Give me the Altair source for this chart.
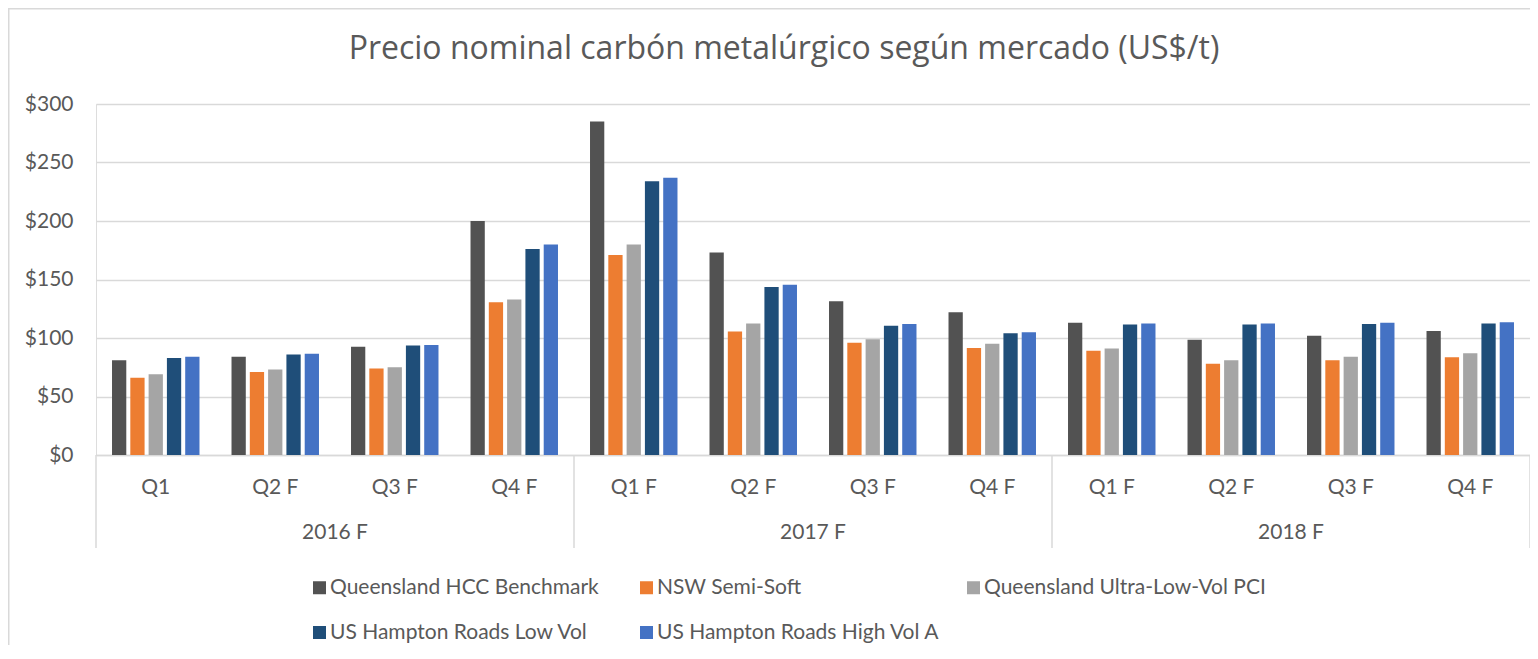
import altair as alt
import pandas as pd

# ---- data ----
title_text = "Precio nominal carbón metalúrgico según mercado (US$/t)"
years = ["2016 F", "2017 F", "2018 F"]
quarters = [
    ["Q1", "Q2 F", "Q3 F", "Q4 F"],
    ["Q1 F", "Q2 F", "Q3 F", "Q4 F"],
    ["Q1 F", "Q2 F", "Q3 F", "Q4 F"],
]
series = [
    "Queensland HCC Benchmark",
    "NSW Semi-Soft",
    "Queensland Ultra-Low-Vol PCI",
    "US Hampton Roads Low Vol",
    "US Hampton Roads High Vol A",
]
hcc = [81, 84, 92.5, 200, 285, 173, 131.5, 122, 113, 98.5, 102, 106]
nsw = [66, 71, 74, 130.5, 171, 105.5, 96, 91.5, 89, 78, 81, 83.5]
pci = [69, 73, 75, 133, 180, 112.5, 99, 95, 91, 81, 84, 87]
lowvol = [83, 86, 93.5, 176, 234, 143.5, 110.5, 104, 111.5, 111.5, 112, 112.5]
highvol = [84, 86.5, 94, 180, 237, 145.5, 112, 105, 112.5, 112.5, 113, 113.5]
colors = ["#525252", "#ED7D31", "#A5A5A5", "#1F4E79", "#4472C4"]
y_ticks = [0, 50, 100, 150, 200, 250, 300]

# ---- tables ----
keys = [f"{y}|{q}" for y, qs in zip(years, quarters) for q in qs]
values = [hcc, nsw, pci, lowvol, highvol]
rows = []
for s, vals in zip(series, values):
    for k, v in zip(keys, vals):
        rows.append({"key": k, "series": s, "value": v})
df = pd.DataFrame(rows)

year_df = pd.DataFrame({"key": [f"{y}|{qs[1]}" for y, qs in zip(years, quarters)], "year": years})
start_df = pd.DataFrame({"key": [f"{y}|{qs[0]}" for y, qs in zip(years, quarters)]})
end_df = pd.DataFrame({"key": [keys[-1]]})
one_df = pd.DataFrame({"title": [title_text]})

W, H = 1434, 351
TXT = "#595959"
GRID = "#D9D9D9"
FONT = "Lato"

xscale = alt.Scale(domain=keys, paddingInner=0, paddingOuter=0)

bars = alt.Chart(df).mark_bar().encode(
    x=alt.X(
        "key:N",
        sort=keys,
        scale=xscale,
        title=None,
        axis=alt.Axis(
            labelExpr="split(datum.label, '|')[1]",
            labelAngle=0,
            labelFontSize=21,
            labelColor=TXT,
            labelFont=FONT,
            labelPadding=32,
            labelBaseline="middle",
            ticks=False,
            domainColor=GRID,
            domainWidth=1.5,
            grid=False,
        ),
    ),
    xOffset=alt.XOffset(
        "series:N",
        sort=series,
        scale=alt.Scale(domain=series, paddingInner=0.22, paddingOuter=0.875),
    ),
    y=alt.Y(
        "value:Q",
        scale=alt.Scale(domain=[0, 300]),
        title=None,
        axis=alt.Axis(
            values=y_ticks,
            labelExpr="'$' + datum.value",
            labelFontSize=21,
            labelColor=TXT,
            labelFont=FONT,
            labelPadding=23,
            domain=False,
            ticks=False,
            gridColor=GRID,
            gridWidth=1.5,
        ),
    ),
    color=alt.Color(
        "series:N",
        sort=series,
        scale=alt.Scale(domain=series, range=colors),
        legend=alt.Legend(
            orient="none",
            direction="horizontal",
            legendX=213,
            legendY=473,
            title=None,
            columns=3,
            gridAlign="all",
            symbolType="square",
            symbolSize=169,
            symbolStrokeWidth=0,
            labelFontSize=21,
            labelFont=FONT,
            labelColor=TXT,
            labelLimit=600,
            labelOffset=0,
            columnPadding=23,
            rowPadding=23,
            padding=0,
        ),
    ),
)

year_text = alt.Chart(year_df).mark_text(
    fontSize=21, font=FONT, color=TXT, baseline="middle", align="center"
).encode(
    x=alt.X("key:N", scale=xscale, title=None, bandPosition=1),
    y=alt.value(H + 78),
    text="year:N",
)

sep_start = alt.Chart(start_df).mark_rule(color=GRID, strokeWidth=1.5).encode(
    x=alt.X("key:N", scale=xscale, title=None, bandPosition=0),
    y=alt.value(H),
    y2=alt.value(H + 93),
)
sep_end = alt.Chart(end_df).mark_rule(color=GRID, strokeWidth=1.5).encode(
    x=alt.X("key:N", scale=xscale, title=None, bandPosition=1),
    y=alt.value(H),
    y2=alt.value(H + 93),
)

frame = alt.Chart(one_df).mark_rect(fill=None, stroke=GRID, strokeWidth=1.5).encode(
    x=alt.value(-88 + 0.75),
    x2=alt.value(W + 200),
    y=alt.value(-96 + 0.75),
    y2=alt.value(H + 400),
)

title = alt.Chart(one_df).mark_text(
    fontSize=32, font="Open Sans", color=TXT, baseline="middle", align="center"
).encode(
    x=alt.value(688),
    y=alt.value(-55),
    text="title:N",
)

chart = (
    alt.layer(frame, bars, sep_start, sep_end, year_text, title)
    .properties(
        width=W,
        height=H,
        autosize=alt.AutoSizeParams(type="none"),
        padding={"left": 88, "top": 96, "right": 0, "bottom": 190},
    )
    .configure_view(stroke=None)
    .configure(font=FONT)
)

chart.save("out.html", embed_options={"renderer": "svg", "actions": False})
